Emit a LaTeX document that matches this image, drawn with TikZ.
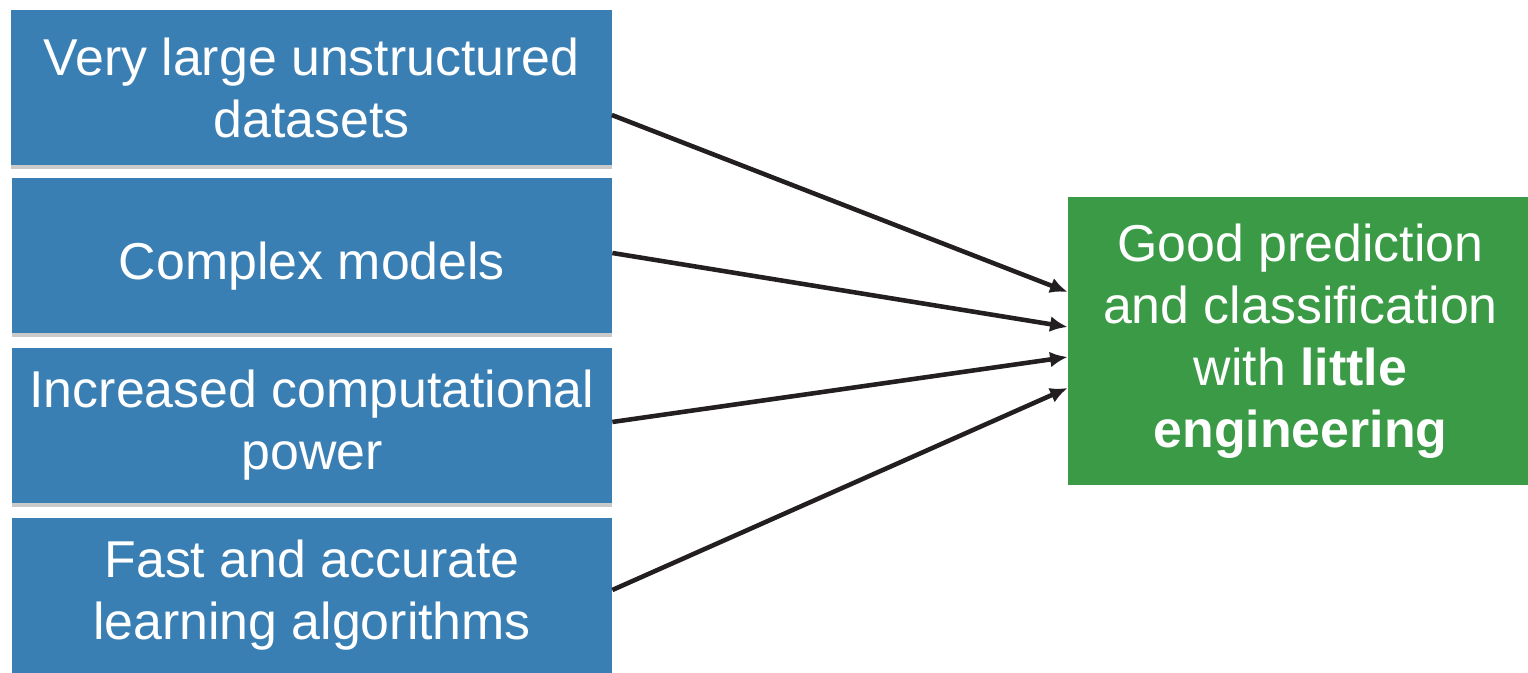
\documentclass[tikz,border=0pt]{standalone}
\usepackage{fontspec}
\setmainfont{Liberation Sans}
\usepackage{tikz}
\usetikzlibrary{arrows.meta, shadows}
\usepackage{xcolor}
\definecolor{boxblue}{HTML}{3A7FB4}
\definecolor{boxgreen}{HTML}{3A9A46}
\definecolor{arrowink}{HTML}{231F20}

\begin{document}
\begin{tikzpicture}[
    cause/.style={rectangle, fill=boxblue, text=white, minimum width=12cm, minimum height=3.1cm,
      align=center, font=\fontsize{29.5}{35.3}\selectfont,
      execute at begin node={\rule{0pt}{1.17cm}},
      drop shadow={shadow xshift=0pt, shadow yshift=-2pt, opacity=0.35, fill=black!60}},
    effect/.style={rectangle, fill=boxgreen, text=white, minimum width=9.3cm, minimum height=5.76cm,
      align=center, font=\fontsize{29.5}{35.3}\selectfont,
      execute at begin node={\rule{0pt}{1.17cm}}},
    feed/.style={draw=arrowink, line width=2.6pt, -{Latex[length=10pt, width=9pt]}}
  ]
      \useasboundingbox (0,0) rectangle (30.56,13.46);
      \clip (0,0) rectangle (30.56,13.46);

      % inputs on the left
      \node[cause] (data) at (6.23,11.71) {Very large unstructured\\datasets};
      \node[cause] (models) at (6.24,8.35) {Complex models};
      \node[cause] (power) at (6.24,4.95) {Increased computational\\power};
      \node[cause] (algos) at (6.24,1.55) {Fast and accurate\\learning algorithms};

      % result on the right
      \node[effect] (result) at (26.01,6.64) {Good prediction\\and classification\\with \textbf{little}\\\textbf{engineering}};

      \draw[feed] ([yshift=-0.55cm]data.east) -- ([yshift=0.98cm]result.west);
      \draw[feed] ([yshift=0.05cm]models.east) -- ([yshift=0.28cm]result.west);
      \draw[feed] ([yshift=0.07cm]power.east) -- ([yshift=-0.32cm]result.west);
      \draw[feed] ([yshift=0.11cm]algos.east) -- ([yshift=-0.94cm]result.west);
\end{tikzpicture}
\end{document}
